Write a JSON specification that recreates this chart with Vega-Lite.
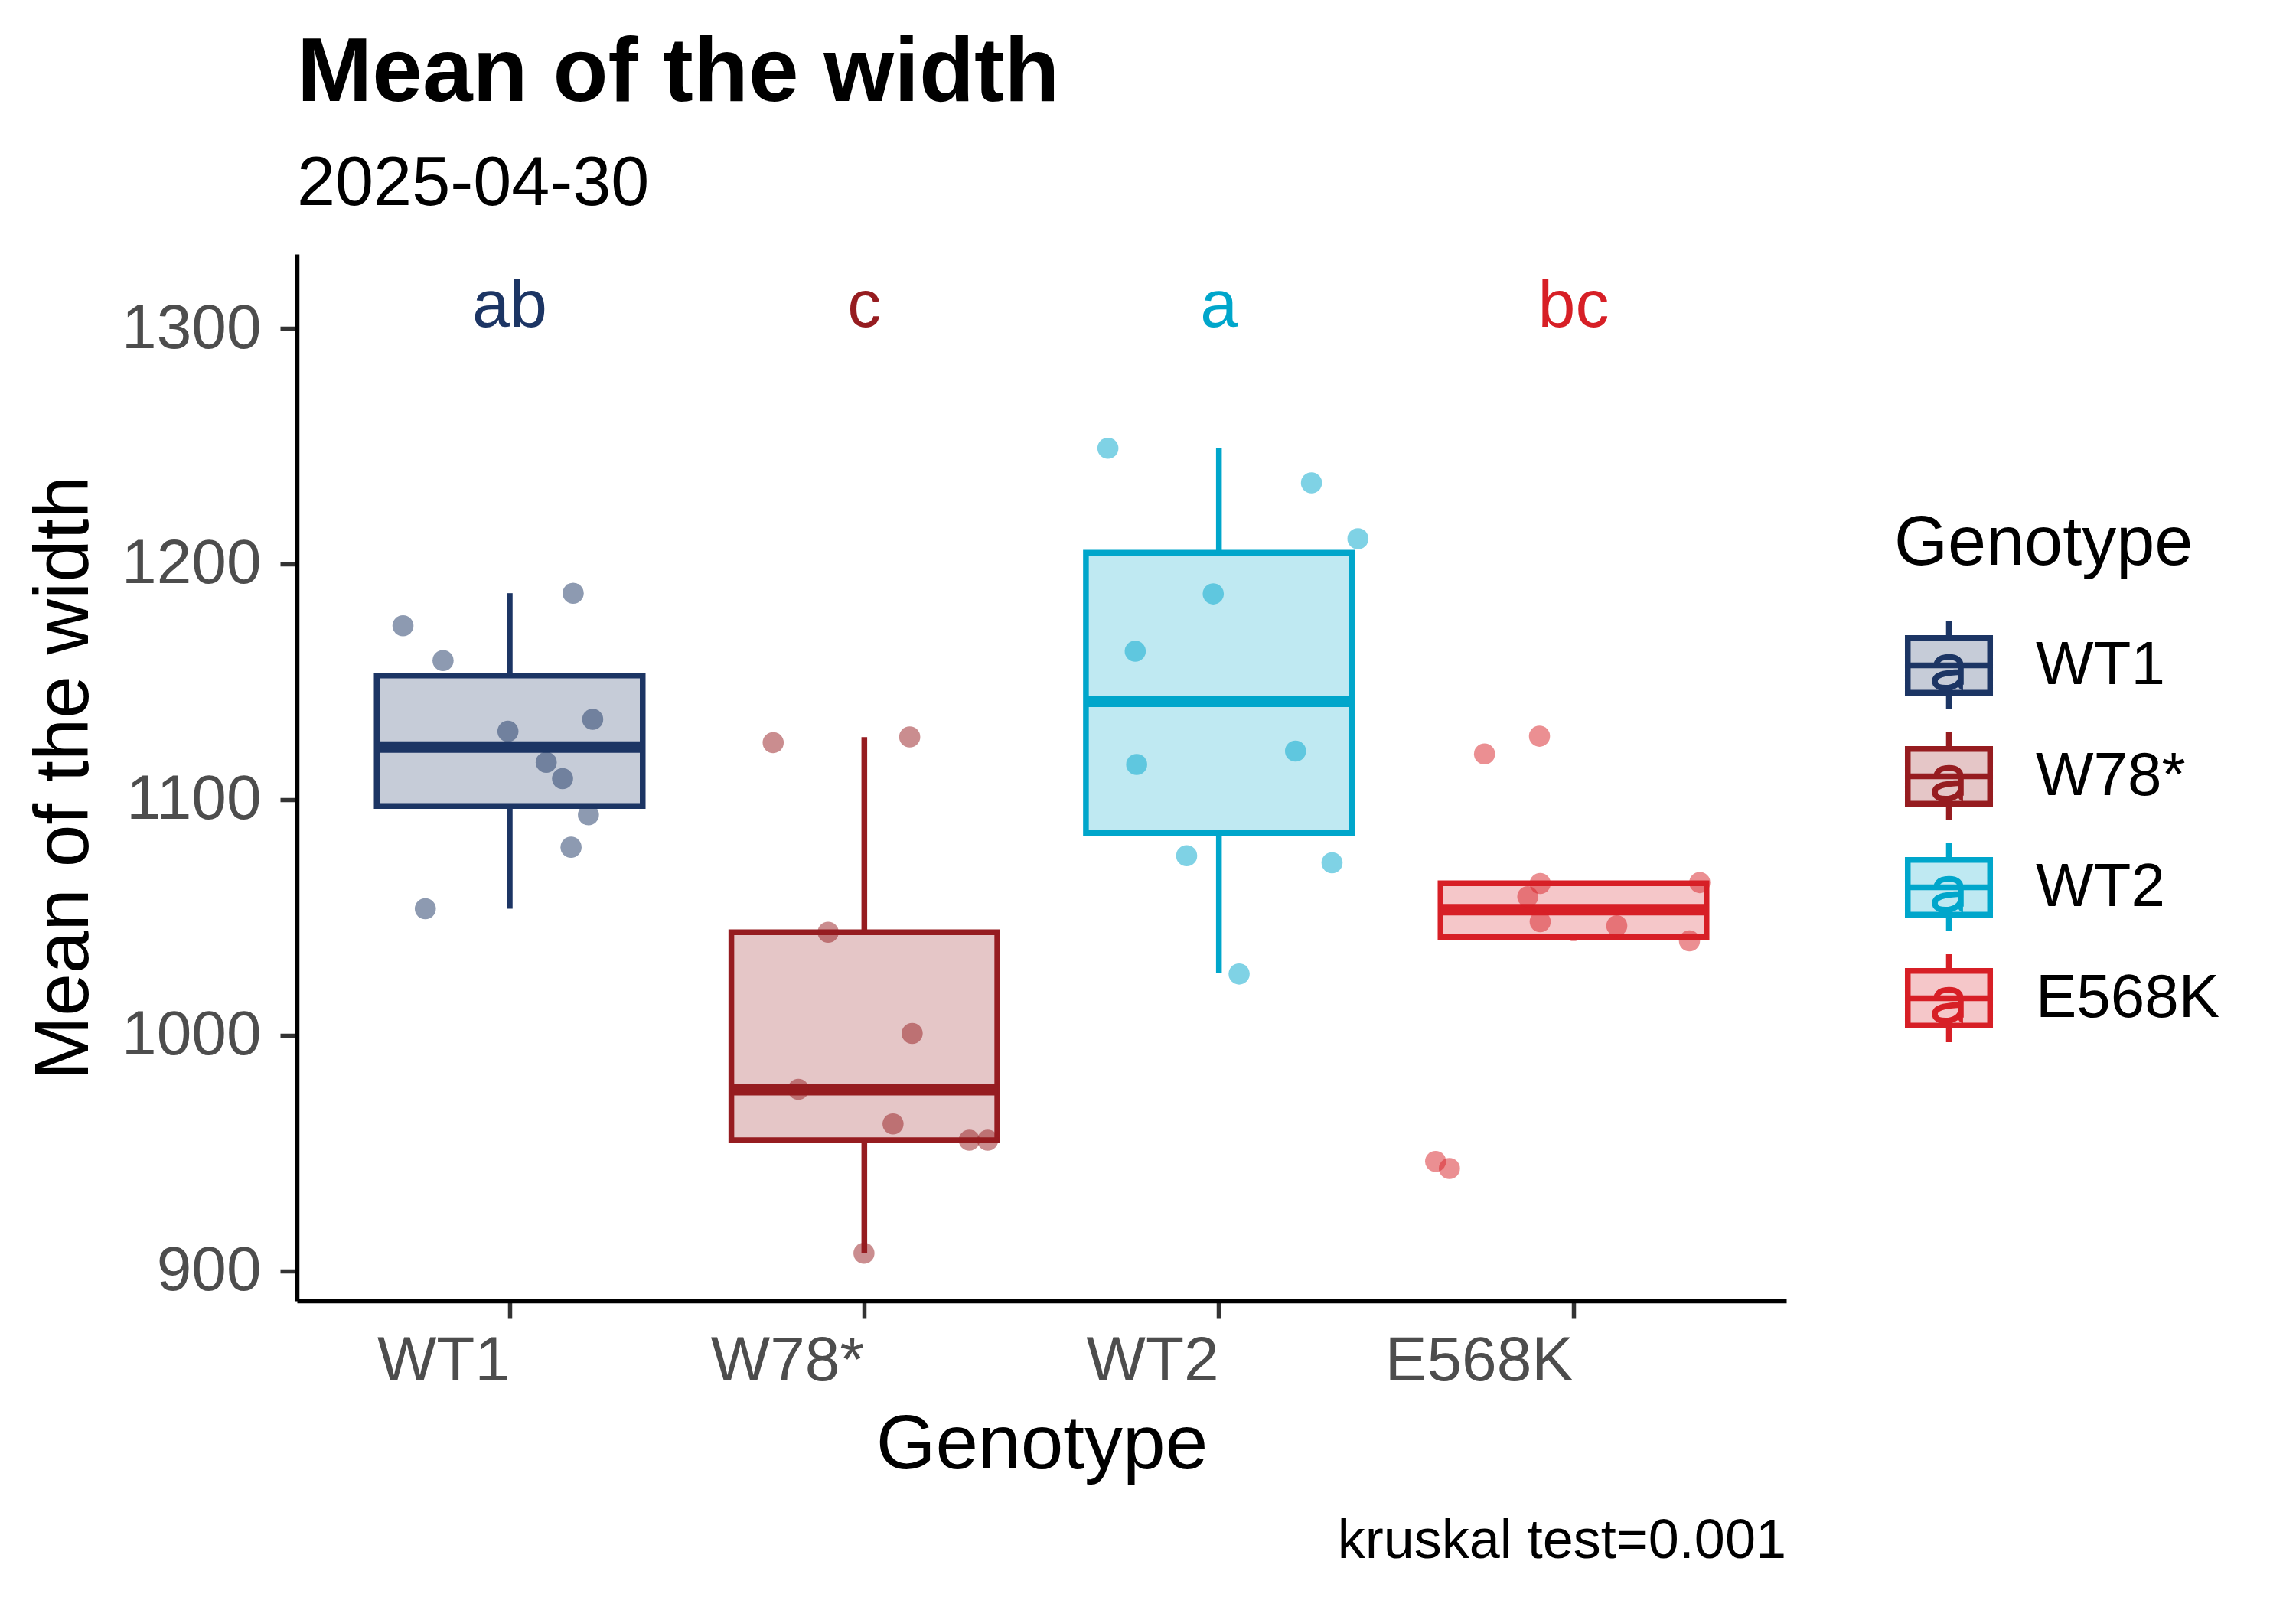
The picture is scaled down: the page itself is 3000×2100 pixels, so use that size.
{
  "$schema": "https://vega.github.io/schema/vega-lite/v6.json",
  "description": "Mean of the width by genotype, boxplot with jittered points",
  "width": 1946,
  "height": 1368,
  "autosize": {"type": "none"},
  "padding": {"left": 388, "top": 332, "right": 666, "bottom": 400},
  "title": {
    "text": "Mean of the width",
    "subtitle": "2025-04-30",
    "anchor": "start",
    "frame": "group",
    "fontSize": 118,
    "fontWeight": "bold",
    "color": "black",
    "subtitleFontSize": 90,
    "subtitleColor": "black",
    "subtitlePadding": 40,
    "offset": 45
  },
  "datasets": {
    "boxes": [
      {"genotype": "WT1", "lower": 1053.7, "q1": 1097.3, "median": 1122.3, "q3": 1152.7, "upper": 1187.6, "letter": "ab"},
      {"genotype": "W78*", "lower": 907.5, "q1": 955.5, "median": 976.9, "q3": 1043.7, "upper": 1126.5, "letter": "c"},
      {"genotype": "WT2", "lower": 1026.3, "q1": 1085.9, "median": 1141.7, "q3": 1204.8, "upper": 1249.0, "letter": "a"},
      {"genotype": "E568K", "lower": 1040.1, "q1": 1041.7, "median": 1053.3, "q3": 1064.5, "upper": 1064.8, "letter": "bc"}
    ],
    "points": [
      {"genotype": "WT1", "width": 1173.8, "jitter": -0.301},
      {"genotype": "WT1", "width": 1159.0, "jitter": -0.188},
      {"genotype": "WT1", "width": 1187.6, "jitter": 0.179},
      {"genotype": "WT1", "width": 1129.0, "jitter": -0.005},
      {"genotype": "WT1", "width": 1134.1, "jitter": 0.234},
      {"genotype": "WT1", "width": 1115.8, "jitter": 0.103},
      {"genotype": "WT1", "width": 1108.9, "jitter": 0.149},
      {"genotype": "WT1", "width": 1093.6, "jitter": 0.222},
      {"genotype": "WT1", "width": 1079.8, "jitter": 0.173},
      {"genotype": "WT1", "width": 1053.7, "jitter": -0.238},
      {"genotype": "W78*", "width": 1124.2, "jitter": -0.257},
      {"genotype": "W78*", "width": 1126.6, "jitter": 0.128},
      {"genotype": "W78*", "width": 1043.7, "jitter": -0.102},
      {"genotype": "W78*", "width": 1000.8, "jitter": 0.135},
      {"genotype": "W78*", "width": 977.1, "jitter": -0.186},
      {"genotype": "W78*", "width": 962.4, "jitter": 0.081},
      {"genotype": "W78*", "width": 955.5, "jitter": 0.296},
      {"genotype": "W78*", "width": 955.5, "jitter": 0.348},
      {"genotype": "W78*", "width": 907.5, "jitter": -0.001},
      {"genotype": "WT2", "width": 1249.1, "jitter": -0.313},
      {"genotype": "WT2", "width": 1234.4, "jitter": 0.261},
      {"genotype": "WT2", "width": 1210.7, "jitter": 0.392},
      {"genotype": "WT2", "width": 1187.3, "jitter": -0.016},
      {"genotype": "WT2", "width": 1163.0, "jitter": -0.236},
      {"genotype": "WT2", "width": 1114.9, "jitter": -0.232},
      {"genotype": "WT2", "width": 1120.6, "jitter": 0.216},
      {"genotype": "WT2", "width": 1076.2, "jitter": -0.091},
      {"genotype": "WT2", "width": 1073.2, "jitter": 0.319},
      {"genotype": "WT2", "width": 1026.0, "jitter": 0.057},
      {"genotype": "E568K", "width": 1119.4, "jitter": -0.251},
      {"genotype": "E568K", "width": 1126.9, "jitter": -0.096},
      {"genotype": "E568K", "width": 1064.4, "jitter": -0.094},
      {"genotype": "E568K", "width": 1058.8, "jitter": -0.129},
      {"genotype": "E568K", "width": 1064.8, "jitter": 0.356},
      {"genotype": "E568K", "width": 1048.2, "jitter": -0.094},
      {"genotype": "E568K", "width": 1046.5, "jitter": 0.122},
      {"genotype": "E568K", "width": 1040.1, "jitter": 0.327},
      {"genotype": "E568K", "width": 946.5, "jitter": -0.389},
      {"genotype": "E568K", "width": 943.5, "jitter": -0.35}
    ]
  },
  "encoding": {
    "x": {
      "field": "genotype",
      "type": "nominal",
      "sort": ["WT1", "W78*", "WT2", "E568K"],
      "scale": {"domain": ["WT1", "W78*", "WT2", "E568K"], "paddingInner": 0.25, "paddingOuter": 0.225},
      "axis": {
        "title": "Genotype",
        "labelAngle": 0,
        "labelAlign": "right",
        "labelBaseline": "top",
        "labelPadding": 16,
        "titlePadding": 20
      }
    }
  },
  "resolve": {"scale": {"xOffset": "independent"}},
  "layer": [
    {
      "data": {"name": "boxes"},
      "mark": {"type": "bar", "strokeWidth": 7.5, "width": {"band": 1}},
      "encoding": {
        "y": {
          "field": "q1",
          "type": "quantitative",
          "scale": {"domain": [887.3, 1331.5], "nice": false, "zero": false},
          "axis": {"title": "Mean of the width", "values": [900, 1000, 1100, 1200, 1300], "format": "d", "labelPadding": 25, "titlePadding": 53}
        },
        "y2": {"field": "q3"},
        "fill": {
          "field": "genotype",
          "type": "nominal",
          "scale": {"domain": ["WT1", "W78*", "WT2", "E568K"], "range": ["#C6CCD8", "#E5C6C7", "#BFE9F2", "#F5C7C9"]},
          "legend": {
            "title": "Genotype",
            "orient": "none",
            "legendX": 2087,
            "legendY": 335,
            "symbolType": "M-0.935,-0.62 H0.935 V0.62 H-0.935 Z M-0.935,0 H0.935 M0,-1 V-0.62 M0,0.62 V1 M-0.28,-0.05 C-0.24,-0.17 -0.12,-0.19 0,-0.19 C0.2,-0.19 0.27,-0.1 0.27,0.02 V0.42 C0.27,0.47 0.29,0.5 0.32,0.5 M0.27,0.28 C0.27,0.4 0.12,0.51 -0.08,0.51 C-0.22,0.51 -0.32,0.46 -0.32,0.36 C-0.32,0.17 0.05,0.16 0.27,0.15",
            "symbolSize": 13225,
            "symbolStrokeWidth": 7.5,
            "symbolOffset": 10,
            "labelOffset": 52,
            "rowPadding": 0,
            "titlePadding": 51
          }
        },
        "stroke": {
          "field": "genotype",
          "type": "nominal",
          "scale": {"domain": ["WT1", "W78*", "WT2", "E568K"], "range": ["#1C3564", "#961C20", "#00A6CB", "#D71F26"]},
          "legend": {
            "title": "Genotype",
            "orient": "none",
            "legendX": 2087,
            "legendY": 335
          }
        }
      }
    },
    {
      "data": {"name": "boxes"},
      "mark": {"type": "rule", "strokeWidth": 7.5},
      "encoding": {
        "y": {"field": "q3", "type": "quantitative"},
        "y2": {"field": "upper"},
        "stroke": {"field": "genotype", "type": "nominal", "legend": null}
      }
    },
    {
      "data": {"name": "boxes"},
      "mark": {"type": "rule", "strokeWidth": 7.5},
      "encoding": {
        "y": {"field": "lower", "type": "quantitative"},
        "y2": {"field": "q1"},
        "stroke": {"field": "genotype", "type": "nominal", "legend": null}
      }
    },
    {
      "data": {"name": "boxes"},
      "mark": {"type": "tick", "size": 347.5, "thickness": 15, "opacity": 1},
      "encoding": {
        "y": {"field": "median", "type": "quantitative"},
        "color": {
          "field": "genotype",
          "type": "nominal",
          "scale": {"domain": ["WT1", "W78*", "WT2", "E568K"], "range": ["#1C3564", "#961C20", "#00A6CB", "#D71F26"]},
          "legend": null
        }
      }
    },
    {
      "data": {"name": "points"},
      "mark": {"type": "circle", "size": 760, "fillOpacity": 0.5, "opacity": 1},
      "encoding": {
        "y": {"field": "width", "type": "quantitative"},
        "xOffset": {"field": "jitter", "type": "quantitative", "scale": {"domain": [-0.375, 0.375]}},
        "color": {"field": "genotype", "type": "nominal", "legend": null}
      }
    },
    {
      "data": {"name": "boxes"},
      "mark": {"type": "text", "fontSize": 88, "baseline": "middle", "align": "center"},
      "encoding": {
        "y": {"datum": 1309, "type": "quantitative"},
        "text": {"field": "letter"},
        "color": {"field": "genotype", "type": "nominal", "legend": null}
      }
    },
    {
      "data": {"values": [{"caption": "kruskal test=0.001"}]},
      "mark": {"type": "text", "fontSize": 72, "align": "right", "baseline": "alphabetic", "dy": 336, "color": "black"},
      "encoding": {
        "x": {"value": "width"},
        "y": {"value": "height"},
        "text": {"field": "caption"}
      }
    }
  ],
  "config": {
    "font": "Liberation Sans",
    "view": {"stroke": null},
    "axis": {
      "grid": false,
      "domainColor": "black",
      "domainWidth": 5.5,
      "tickColor": "#333333",
      "tickWidth": 5.5,
      "tickSize": 22,
      "labelFontSize": 82,
      "labelColor": "#4d4d4d",
      "labelLimit": 0,
      "titleFontSize": 100,
      "titleFontWeight": "normal",
      "titleColor": "black",
      "titleLimit": 0
    },
    "legend": {
      "titleFontSize": 90,
      "titleFontWeight": "normal",
      "titleColor": "black",
      "titleLimit": 0,
      "labelFontSize": 80,
      "labelColor": "black",
      "labelLimit": 0
    }
  }
}
